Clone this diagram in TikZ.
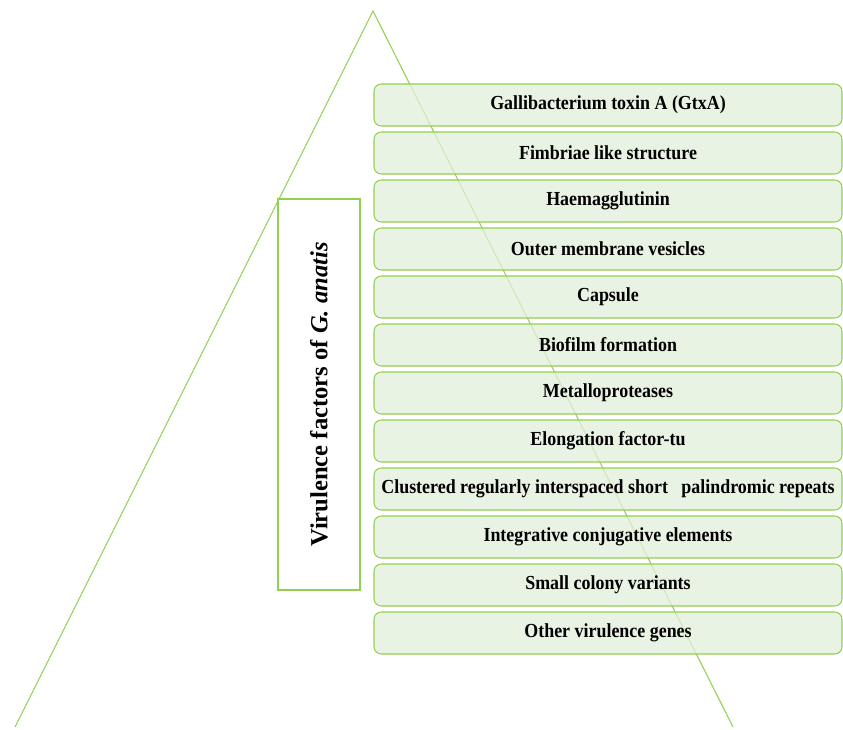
\documentclass[tikz,border=0pt]{standalone}
\usepackage{fontspec}
\setmainfont{Liberation Serif}
\newfontfamily\narrowserif{Liberation Serif}[FakeStretch=0.9]
\definecolor{leafline}{RGB}{146,208,80}
\definecolor{leaffill}{RGB}{226,239,218}
\tikzset{
  factor/.style={draw=leafline, line width=0.9pt, fill=leaffill, fill opacity=0.75, text opacity=1,
    rounded corners=0.22cm, minimum width=14.04cm, minimum height=1.26cm,
    font=\narrowserif\bfseries\fontsize{17}{19}\selectfont, inner sep=0pt},
  titlebox/.style={draw=leafline, line width=0.9pt, fill=white, rotate=90,
    minimum width=11.73cm, minimum height=2.46cm, font=\bfseries\fontsize{21}{24}\selectfont}
}
\begin{document}
\begin{tikzpicture}[x=0.03cm, y=-0.03cm]
    \useasboundingbox (0,0) rectangle (843,729);
    % pyramid
    \coordinate (top) at (373,11);
    \coordinate (baseL) at (15,727);
    \coordinate (baseR) at (733,727);
    \draw[leafline, line width=0.9pt] (baseL) -- (top) -- (baseR);
    % title
    \node[titlebox] (vf) at (319,394.5) {Virulence factors of \textit{G. anatis}};
    % factors
    \node[factor] (gtx) at (608,105) {Gallibacterium toxin A (GtxA)};
    \node[factor] (fim) at (608,153) {Fimbriae like structure};
    \node[factor] (hae) at (608,201) {Haemagglutinin};
    \node[factor] (omv) at (608,249) {Outer membrane vesicles};
    \node[factor] (cap) at (608,297) {Capsule};
    \node[factor] (bio) at (608,345) {Biofilm formation};
    \node[factor] (met) at (608,393) {Metalloproteases};
    \node[factor] (eft) at (608,441) {Elongation factor-tu};
    \node[factor] (cri) at (608,489) {Clustered regularly interspaced short\ \ \ palindromic repeats};
    \node[factor] (ice) at (608,537) {Integrative conjugative elements};
    \node[factor] (scv) at (608,585) {Small colony variants};
    \node[factor] (oth) at (608,633) {Other virulence genes};
\end{tikzpicture}
\end{document}
